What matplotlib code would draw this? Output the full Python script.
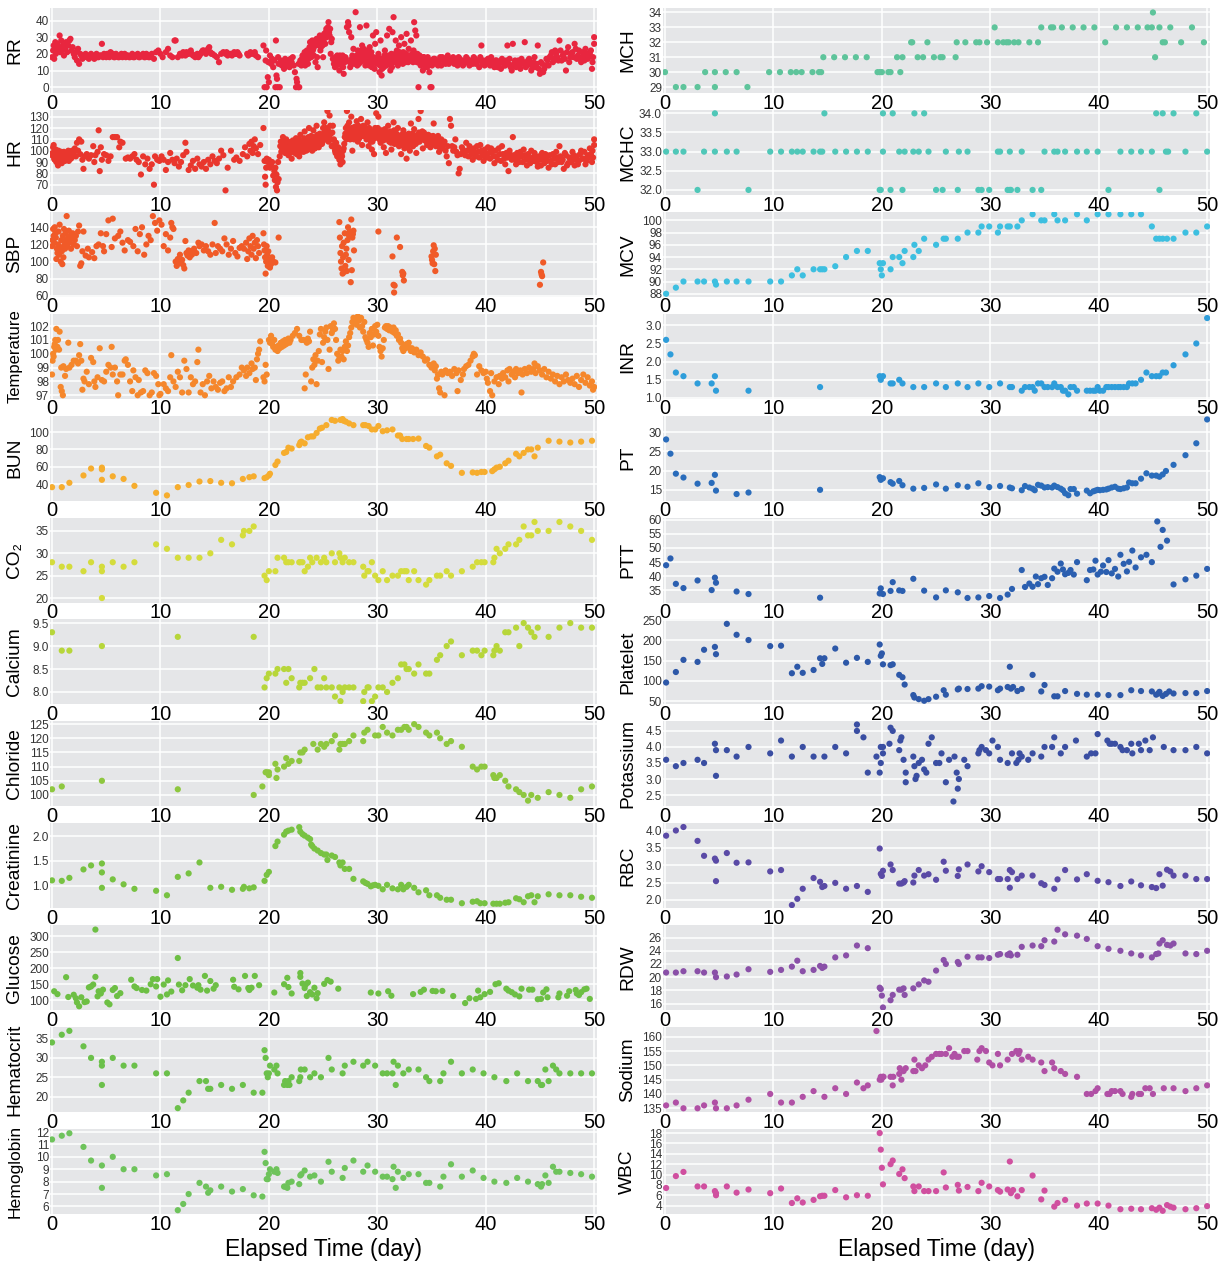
import matplotlib
matplotlib.use('Agg')
import matplotlib.pyplot as plt


### Data: (elapsed day, value)

# Vitals (dense)
rr = [(0.0, 18), (0.1, 22), (0.15, 25), (0.2, 17), (0.3, 27), (0.35, 20), (0.45, 23), (0.5, 26), (0.6, 24),
      (0.7, 31), (0.75, 21), (0.85, 28), (0.9, 22), (1.0, 25), (1.1, 19), (1.2, 23), (1.3, 27), (1.4, 21),
      (1.5, 25), (1.6, 28), (1.7, 29), (1.8, 22), (1.9, 24), (2.0, 20), (2.1, 18), (2.2, 21), (2.3, 16),
      (2.4, 23), (2.5, 14), (2.6, 20), (2.8, 17), (3.0, 19), (3.2, 18), (3.4, 17), (3.6, 20), (3.8, 18),
      (4.0, 19), (4.2, 18), (4.4, 19), (4.6, 26), (4.8, 20), (5.0, 18), (5.2, 19), (5.4, 21), (5.6, 20),
      (5.8, 18), (6.0, 19), (6.2, 18), (6.4, 20), (6.6, 19), (6.8, 18), (7.0, 19), (7.2, 18), (7.4, 20),
      (7.6, 18), (7.8, 19), (8.0, 18), (8.2, 19), (8.4, 20), (8.6, 18), (8.8, 19), (9.0, 18), (9.2, 20),
      (9.4, 17), (9.6, 21), (9.8, 22), (10.0, 20), (10.2, 18), (10.5, 21), (10.7, 23), (10.9, 19),
      (11.1, 18), (11.3, 28), (11.4, 28), (11.6, 18), (11.8, 20), (12.0, 19), (12.2, 20), (12.4, 21),
      (12.6, 20), (12.8, 22), (13.0, 19), (13.2, 18), (13.4, 20), (13.6, 19), (13.8, 21), (14.0, 22),
      (14.2, 20), (14.4, 23), (14.6, 21), (14.8, 20), (15.0, 19), (15.2, 18), (15.4, 15), (15.6, 20),
      (15.8, 21), (16.0, 20), (16.2, 19), (16.5, 20), (16.8, 21), (17.0, 20), (17.3, 19), (18.0, 20),
      (18.3, 21), (18.6, 20), (18.8, 19), (19.0, 18), (19.5, 25), (19.6, 0), (19.7, 16), (19.75, 22),
      (19.8, 0), (19.9, 6), (19.95, 15), (20.0, 3), (20.1, 19), (20.2, 14), (20.3, 17), (20.4, 12),
      (20.5, 16), (20.6, 0), (20.65, 28), (20.7, 7), (20.75, 5), (20.8, 0), (20.85, 18), (20.9, 14),
      (21.0, 0), (21.1, 16), (21.2, 13), (21.3, 15), (21.4, 11), (21.5, 17), (21.6, 13), (21.7, 16),
      (21.8, 14), (21.9, 12), (22.0, 17), (22.1, 15), (22.2, 18), (22.3, 13), (22.4, 9), (22.5, 0),
      (22.55, 5), (22.6, 3), (22.7, 0), (22.75, 14), (22.8, 0), (22.9, 16), (23.0, 13), (23.1, 19),
      (23.2, 15), (23.3, 21), (23.4, 17), (23.5, 22), (23.6, 14), (23.7, 20), (23.8, 27), (23.9, 18),
      (24.0, 28), (24.1, 23), (24.2, 26), (24.3, 15), (24.4, 29), (24.5, 12), (24.6, 27), (24.7, 31),
      (24.8, 24), (24.9, 30), (25.0, 18), (25.1, 32), (25.2, 26), (25.3, 35), (25.4, 34), (25.5, 39),
      (25.6, 31), (25.7, 20), (25.8, 29), (25.9, 17), (26.0, 14), (26.1, 12), (26.2, 16), (26.3, 19),
      (26.4, 14), (26.5, 10), (26.6, 17), (26.7, 13), (26.8, 19), (26.9, 8), (27.0, 15), (27.1, 17),
      (27.2, 36), (27.3, 39), (27.35, 37), (27.4, 33), (27.5, 12), (27.6, 30), (27.7, 19), (27.8, 23),
      (27.9, 17), (28.0, 45), (28.1, 19), (28.2, 22), (28.3, 14), (28.4, 36), (28.5, 18), (28.6, 25),
      (28.7, 16), (28.8, 21), (28.9, 13), (29.0, 37), (29.1, 22), (29.2, 15), (29.3, 24), (29.4, 19),
      (29.5, 12), (29.6, 31), (29.7, 17), (29.8, 26), (29.9, 33), (30.0, 14), (30.1, 20), (30.2, 9),
      (30.3, 28), (30.4, 7), (30.5, 16), (30.6, 12), (30.7, 22), (30.8, 19), (30.9, 31), (31.0, 15),
      (31.1, 35), (31.2, 10), (31.3, 20), (31.4, 33), (31.5, 42), (31.6, 17), (31.7, 28), (31.8, 22),
      (31.9, 13), (32.0, 25), (32.1, 18), (32.2, 30), (32.3, 16), (32.4, 21), (32.5, 26), (32.6, 15),
      (32.7, 32), (32.8, 19), (32.9, 23), (33.0, 17), (33.1, 28), (33.2, 20), (33.3, 15), (33.4, 39),
      (33.5, 34), (33.6, 31), (33.7, 20), (33.8, 0), (33.9, 19), (34.0, 13), (34.1, 16), (34.2, 10),
      (34.3, 18), (34.4, 14), (34.5, 17), (34.6, 12), (34.7, 16), (34.8, 9), (34.9, 0), (35.0, 0),
      (35.1, 15), (35.3, 17), (35.5, 14), (35.7, 16), (35.9, 13), (36.0, 18), (36.2, 15), (36.4, 17),
      (36.6, 14), (36.8, 16), (37.0, 18), (37.2, 15), (37.4, 13), (37.6, 17), (37.8, 16), (38.0, 14),
      (38.2, 18), (38.4, 15), (38.6, 16), (38.8, 14), (39.0, 17), (39.2, 15), (39.4, 12), (39.6, 25),
      (39.8, 16), (40.0, 14), (40.2, 17), (40.4, 13), (40.6, 15), (40.8, 12), (41.0, 16), (41.2, 14),
      (41.4, 11), (41.6, 15), (41.8, 13), (42.0, 25), (42.2, 17), (42.4, 10), (42.5, 26), (42.6, 14),
      (42.8, 12), (43.0, 16), (43.2, 11), (43.4, 14), (43.6, 27), (43.8, 13), (44.0, 17), (44.2, 10),
      (44.4, 15), (44.6, 12), (44.8, 25), (45.0, 8), (45.2, 14), (45.4, 11), (45.6, 17), (45.8, 13),
      (46.0, 19), (46.2, 15), (46.4, 22), (46.6, 18), (46.8, 28), (47.0, 16), (47.2, 20), (47.4, 10),
      (47.6, 24), (47.8, 18), (48.0, 21), (48.2, 26), (48.4, 17), (48.6, 22), (48.8, 15), (49.0, 19),
      (49.2, 23), (49.4, 17), (49.6, 20), (49.8, 11), (50.0, 30), (50.0, 26), (49.9, 18),
      # in-between readings
      (2.7, 19), (2.9, 18), (3.1, 20), (3.3, 19), (3.5, 18), (3.7, 19), (3.9, 17), (4.1, 20), (4.3, 18),
      (4.5, 19), (4.7, 18), (4.9, 19), (5.1, 20), (5.3, 18), (5.5, 19), (5.7, 18), (5.9, 20), (6.1, 18),
      (6.3, 19), (6.5, 18), (6.7, 20), (6.9, 19), (7.1, 18), (7.3, 19), (7.5, 18), (7.7, 19), (7.9, 20),
      (8.1, 18), (8.3, 19), (8.5, 18), (8.7, 20), (8.9, 18), (9.1, 19), (12.1, 21), (12.3, 19), (12.5, 20),
      (12.7, 21), (12.9, 20), (13.1, 19), (13.3, 19), (13.5, 18), (13.7, 20), (13.9, 22), (14.1, 21),
      (14.3, 22), (14.5, 24), (14.7, 20), (16.1, 21), (16.3, 20), (16.6, 19), (16.9, 20), (17.1, 21),
      (17.2, 20), (18.1, 19), (18.4, 20), (18.7, 21),
      (23.05, 17), (23.15, 15), (23.25, 18), (23.35, 13), (23.45, 16), (23.55, 20), (23.65, 17), (23.75, 24),
      (23.85, 21), (23.95, 25), (24.05, 22), (24.15, 19), (24.25, 28), (24.35, 25), (24.45, 18), (24.55, 26),
      (24.65, 29), (24.75, 22), (24.85, 27), (24.95, 25), (25.05, 28), (25.15, 30), (25.25, 33), (25.35, 30),
      (25.45, 36), (25.55, 33), (25.65, 35), (25.75, 27),
      (26.05, 16), (26.15, 18), (26.25, 13), (26.35, 17), (26.45, 15), (26.55, 19), (26.65, 14), (26.75, 16),
      (26.85, 12), (27.05, 18), (27.45, 15), (27.65, 17), (27.85, 14), (28.05, 16), (28.15, 13), (28.25, 18),
      (28.35, 20), (28.45, 15), (28.55, 22), (28.65, 19), (28.75, 23), (28.85, 17), (28.95, 20), (29.05, 15),
      (29.15, 19), (29.25, 13), (29.35, 17), (29.45, 21), (29.55, 14), (29.65, 18), (29.75, 11), (29.85, 16),
      (30.05, 18), (30.15, 15), (30.25, 13), (30.35, 17), (30.45, 11), (30.55, 14), (30.65, 19), (30.75, 16),
      (30.85, 13), (30.95, 17), (31.05, 19), (31.15, 14), (31.25, 17), (31.35, 12), (31.45, 18), (31.55, 15),
      (31.65, 20), (31.75, 16), (31.85, 19), (31.95, 15), (32.05, 21), (32.15, 17), (32.25, 19), (32.35, 14),
      (32.45, 18), (32.55, 16), (32.65, 20), (32.75, 17), (32.85, 15), (32.95, 18), (33.05, 16), (33.15, 19),
      (33.25, 17), (33.35, 22), (33.45, 16), (33.55, 18), (33.65, 15), (33.75, 17), (33.85, 16), (33.95, 14),
      (34.05, 17), (34.15, 15), (34.25, 18), (34.35, 16), (34.45, 12), (34.55, 15), (34.65, 18), (34.75, 14),
      (34.85, 16), (35.05, 13),
      (35.2, 17), (35.4, 15), (35.6, 13), (35.8, 18), (36.1, 16), (36.3, 14), (36.5, 19), (36.7, 15),
      (36.9, 17), (37.1, 14), (37.3, 16), (37.5, 18), (37.7, 15), (37.9, 13), (38.1, 16), (38.3, 17),
      (38.5, 13), (38.7, 15), (38.9, 18), (39.1, 14), (39.3, 16), (39.5, 18), (39.7, 14), (39.9, 13),
      (40.1, 16), (40.3, 15), (40.5, 18), (40.7, 14), (40.9, 16), (41.1, 12), (41.3, 15), (41.5, 17),
      (41.7, 13), (41.9, 16), (42.1, 14), (42.3, 12), (42.7, 16), (42.9, 14), (43.1, 13), (43.3, 17),
      (43.5, 15), (43.7, 12), (43.9, 16), (44.1, 14), (44.3, 12), (44.5, 18), (44.7, 14), (44.9, 11),
      (45.1, 15), (45.3, 9), (45.5, 13), (45.7, 16), (45.9, 18), (46.1, 21), (46.3, 17), (46.5, 20),
      (46.7, 16), (46.9, 22), (47.1, 19), (47.3, 17), (47.5, 21), (47.7, 15), (47.9, 20), (48.1, 18),
      (48.3, 23), (48.5, 19), (48.7, 17), (48.9, 21), (49.1, 16), (49.3, 20), (49.5, 18), (49.7, 22),
      (49.85, 15)]

hr = [(0.0, 96), (0.1, 103), (0.15, 105), (0.2, 93), (0.3, 98), (0.4, 90), (0.5, 95), (0.55, 87), (0.6, 100),
      (0.7, 92), (0.8, 97), (0.9, 89), (1.0, 95), (1.1, 99), (1.2, 91), (1.3, 96), (1.4, 93), (1.5, 100),
      (1.6, 94), (1.7, 98), (1.8, 96), (1.9, 99), (2.0, 97), (2.1, 102), (2.2, 95), (2.3, 107), (2.4, 100),
      (2.5, 110), (2.6, 97), (2.7, 108), (2.8, 92), (2.9, 84), (3.0, 95), (3.2, 97), (3.4, 93), (3.6, 96),
      (3.8, 104), (3.9, 90), (4.0, 96), (4.2, 99), (4.3, 118), (4.4, 82), (4.5, 103), (4.6, 92), (4.8, 97),
      (5.0, 96), (5.2, 91), (5.4, 95), (5.6, 112), (5.8, 112), (6.0, 112), (6.2, 103), (6.3, 108),
      (6.5, 107), (6.8, 93), (7.0, 94), (7.2, 93), (7.4, 95), (7.6, 97), (7.8, 92), (8.0, 90), (8.2, 79),
      (8.4, 95), (8.6, 88), (8.8, 93), (9.0, 84), (9.2, 88), (9.4, 70), (9.5, 95), (9.7, 92), (9.9, 91),
      (10.1, 95), (10.3, 92), (10.5, 83), (10.7, 90), (10.9, 98), (11.1, 92), (11.3, 89), (11.5, 93),
      (11.7, 86), (11.9, 90), (12.1, 96), (12.3, 107), (12.4, 99), (12.6, 83), (12.8, 87), (13.0, 91),
      (13.2, 84), (13.4, 93), (13.6, 88), (13.8, 86), (14.0, 90), (14.2, 84), (14.4, 92), (14.6, 88),
      (14.8, 95), (15.0, 91), (15.2, 89), (15.4, 93), (15.6, 100), (15.8, 96), (16.0, 65), (16.2, 85),
      (16.5, 100), (16.8, 92), (17.0, 94), (17.3, 91), (17.6, 97), (17.8, 103), (18.0, 95), (18.2, 106),
      (18.3, 100), (18.4, 108), (18.5, 98), (18.6, 104), (18.7, 110), (18.8, 102), (19.0, 97), (19.2, 105),
      (19.5, 120), (19.6, 91), (19.65, 77), (19.7, 70), (19.75, 85), (19.8, 93), (19.9, 90), (20.0, 92),
      (20.1, 85), (20.2, 88), (20.3, 90), (20.4, 78), (20.5, 82), (20.55, 74), (20.6, 85), (20.65, 68),
      (20.7, 79), (20.75, 65), (20.8, 72), (20.85, 90), (20.9, 75), (21.0, 95), (21.1, 108), (21.2, 100),
      (21.3, 112), (21.4, 105), (21.5, 98), (21.6, 110), (21.7, 103), (21.8, 96), (21.9, 107), (22.0, 101),
      (22.1, 93), (22.2, 109), (22.3, 104), (22.4, 98), (22.5, 111), (22.6, 100), (22.7, 106), (22.8, 95),
      (22.9, 114), (23.0, 102), (23.1, 108), (23.2, 99), (23.3, 117), (23.4, 104), (23.5, 110), (23.6, 101),
      (23.7, 120), (23.8, 107), (23.9, 113), (24.0, 100), (24.1, 118), (24.2, 105), (24.3, 111), (24.4, 122),
      (24.5, 108), (24.6, 103), (24.7, 115), (24.8, 110), (24.9, 106), (25.0, 120), (25.1, 125), (25.2, 112),
      (25.3, 117), (25.4, 135), (25.5, 108), (25.6, 131), (25.7, 115), (25.8, 104), (25.9, 122), (26.0, 110),
      (26.1, 100), (26.2, 107), (26.3, 95), (26.4, 103), (26.5, 92), (26.6, 88), (26.7, 97), (26.8, 90),
      (26.9, 102), (27.0, 112), (27.1, 120), (27.2, 135), (27.3, 118), (27.4, 125), (27.5, 110), (27.6, 130),
      (27.7, 100), (27.8, 117), (27.9, 121), (28.0, 112), (28.1, 126), (28.2, 108), (28.3, 119), (28.4, 115),
      (28.5, 128), (28.6, 105), (28.7, 122), (28.8, 113), (28.9, 118), (29.0, 110), (29.1, 125), (29.2, 104),
      (29.3, 116), (29.4, 108), (29.5, 101), (29.6, 112), (29.7, 97), (29.8, 120), (29.9, 133), (30.0, 115),
      (30.1, 130), (30.2, 110), (30.3, 107), (30.4, 118), (30.5, 112), (30.6, 103), (30.7, 119), (30.8, 98),
      (30.9, 114), (31.0, 122), (31.1, 108), (31.2, 117), (31.3, 101), (31.4, 112), (31.5, 125), (31.6, 106),
      (31.7, 116), (31.8, 110), (31.9, 120), (32.0, 104), (32.1, 113), (32.2, 97), (32.3, 109), (32.4, 118),
      (32.5, 102), (32.6, 112), (32.7, 93), (32.8, 107), (32.9, 115), (33.0, 100), (33.1, 124), (33.2, 110),
      (33.3, 104), (33.4, 119), (33.5, 112), (33.6, 98), (33.7, 114), (33.8, 128), (33.9, 108), (34.0, 135),
      (34.1, 113), (34.2, 102), (34.3, 116), (34.4, 109), (34.5, 112), (34.6, 105), (34.7, 114), (34.8, 110),
      (34.9, 103), (35.0, 112), (35.1, 107), (35.2, 124), (35.3, 111), (35.4, 104), (35.5, 109), (35.6, 113),
      (35.7, 99), (35.8, 106), (35.9, 110), (36.0, 102), (36.2, 108), (36.4, 95), (36.6, 89), (36.7, 128),
      (36.8, 122), (36.9, 104), (37.0, 100), (37.2, 110), (37.4, 96), (37.5, 80), (37.6, 84), (37.8, 103),
      (38.0, 99), (38.2, 107), (38.4, 95), (38.6, 101), (38.8, 92), (39.0, 98), (39.2, 104), (39.4, 94),
      (39.6, 100), (39.8, 91), (40.0, 97), (40.2, 103), (40.4, 93), (40.6, 99), (40.8, 89), (41.0, 95),
      (41.2, 102), (41.4, 91), (41.6, 97), (41.8, 88), (42.0, 94), (42.1, 82), (42.2, 100), (42.4, 92),
      (42.5, 112), (42.6, 96), (42.8, 88), (43.0, 94), (43.2, 99), (43.4, 90), (43.6, 96), (43.8, 87),
      (44.0, 93), (44.2, 100), (44.4, 91), (44.6, 95), (44.8, 86), (45.0, 92), (45.2, 98), (45.4, 89),
      (45.6, 95), (45.8, 85), (46.0, 91), (46.2, 97), (46.4, 88), (46.6, 94), (46.8, 104), (47.0, 90),
      (47.2, 84), (47.4, 96), (47.6, 89), (47.8, 93), (48.0, 99), (48.2, 87), (48.4, 95), (48.6, 91),
      (48.8, 100), (49.0, 93), (49.2, 88), (49.4, 96), (49.6, 102), (49.8, 90), (50.0, 110), (50.0, 105),
      (49.9, 94),
      # in-between readings
      (0.05, 98), (0.25, 92), (0.35, 101), (0.45, 94), (0.65, 97), (0.75, 90), (0.85, 99), (0.95, 93),
      (1.05, 97), (1.15, 94), (1.25, 98), (1.35, 92), (1.45, 96), (1.55, 91), (1.65, 95), (1.75, 93),
      (1.85, 100), (1.95, 95),
      (21.05, 104), (21.15, 99), (21.25, 106), (21.35, 102), (21.45, 109), (21.55, 104), (21.65, 100),
      (21.75, 108), (21.85, 102), (21.95, 98), (22.05, 106), (22.15, 103), (22.25, 99), (22.35, 108),
      (22.45, 103), (22.55, 97), (22.65, 105), (22.75, 110), (22.85, 103), (22.95, 99), (23.05, 107),
      (23.15, 103), (23.25, 111), (23.35, 106), (23.45, 100), (23.55, 105), (23.65, 112), (23.75, 104),
      (23.85, 109), (23.95, 103), (24.05, 112), (24.15, 107), (24.25, 102), (24.35, 108), (24.45, 114),
      (24.55, 104), (24.65, 110), (24.75, 106), (24.85, 113), (24.95, 108), (25.05, 115), (25.15, 110),
      (25.25, 120), (25.35, 114), (25.45, 118), (25.55, 112), (25.65, 122), (25.75, 110), (25.85, 116),
      (25.95, 105), (26.05, 103), (26.15, 98), (26.25, 101), (26.35, 96), (26.45, 99), (26.55, 94),
      (26.65, 92), (26.75, 95), (26.85, 100), (26.95, 106), (27.05, 115), (27.15, 110), (27.25, 122),
      (27.35, 114), (27.45, 119), (27.55, 115), (27.65, 120), (27.75, 113), (27.85, 110), (27.95, 117),
      (28.05, 119), (28.15, 114), (28.25, 122), (28.35, 111), (28.45, 120), (28.55, 116), (28.65, 113),
      (28.75, 118), (28.85, 121), (28.95, 115), (29.05, 118), (29.15, 112), (29.25, 120), (29.35, 113),
      (29.45, 117), (29.55, 108), (29.65, 115), (29.75, 111), (29.85, 118), (29.95, 112), (30.05, 120),
      (30.15, 114), (30.25, 117), (30.35, 112), (30.45, 115), (30.55, 109), (30.65, 113), (30.75, 110),
      (30.85, 116), (30.95, 111), (31.05, 114), (31.15, 111), (31.25, 107), (31.35, 115), (31.45, 109),
      (31.55, 118), (31.65, 112), (31.75, 108), (31.85, 114), (31.95, 107), (32.05, 111), (32.15, 105),
      (32.25, 114), (32.35, 106), (32.45, 110), (32.55, 107), (32.65, 114), (32.75, 103), (32.85, 110),
      (32.95, 105), (33.05, 112), (33.15, 107), (33.25, 115), (33.35, 109), (33.45, 113), (33.55, 106),
      (33.65, 111), (33.75, 108), (33.85, 116), (33.95, 112), (34.05, 110), (34.15, 117), (34.25, 110),
      (34.35, 112), (34.45, 114), (34.55, 108), (34.65, 111), (34.75, 109), (34.85, 113), (34.95, 107),
      (35.05, 110), (35.15, 113), (35.25, 108), (35.35, 106), (35.45, 111), (35.55, 105), (35.65, 108),
      (35.75, 103), (35.85, 109), (35.95, 104), (36.1, 106), (36.3, 100), (36.5, 104),
      (37.1, 103), (37.3, 99), (37.7, 97), (37.9, 101), (38.1, 96), (38.3, 100), (38.5, 104), (38.7, 97),
      (38.9, 102), (39.1, 95), (39.3, 99), (39.5, 105), (39.7, 96), (39.9, 101), (40.1, 94), (40.3, 98),
      (40.5, 102), (40.7, 95), (40.9, 100), (41.1, 92), (41.3, 97), (41.5, 104), (41.7, 93), (41.9, 98),
      (42.3, 96), (42.7, 92), (42.9, 98), (43.1, 90), (43.3, 95), (43.5, 101), (43.7, 92), (43.9, 97),
      (44.1, 89), (44.3, 94), (44.5, 98), (44.7, 90), (44.9, 95), (45.1, 87), (45.3, 93), (45.5, 97),
      (45.7, 91), (45.9, 96), (46.1, 88), (46.3, 93), (46.5, 99), (46.7, 90), (46.9, 95), (47.1, 92),
      (47.3, 98), (47.5, 87), (47.7, 94), (47.9, 90), (48.1, 96), (48.3, 92), (48.5, 88), (48.7, 97),
      (48.9, 93), (49.1, 99), (49.3, 91), (49.5, 94), (49.7, 97), (49.85, 100)]

sbp = [(0.0, 118), (0.05, 125), (0.1, 138), (0.15, 130), (0.2, 122), (0.25, 140), (0.3, 133), (0.35, 128),
       (0.4, 103), (0.45, 115), (0.5, 110), (0.55, 120), (0.6, 135), (0.65, 108), (0.7, 143), (0.75, 117),
       (0.8, 100), (0.85, 125), (0.9, 112), (0.95, 97), (1.0, 130), (1.05, 105), (1.1, 138), (1.15, 120),
       (1.2, 115), (1.25, 133), (1.3, 125), (1.35, 153), (1.4, 118), (1.5, 128), (1.55, 136), (1.6, 122),
       (1.7, 130), (1.75, 115), (1.8, 127), (1.9, 133), (2.0, 120), (2.1, 125), (2.2, 130), (2.3, 118),
       (2.4, 135), (2.5, 142), (2.6, 95), (2.7, 98), (2.8, 112), (2.9, 135), (3.1, 107), (3.3, 115),
       (3.4, 105), (3.7, 111), (3.9, 104), (4.1, 118), (4.3, 120), (4.5, 133), (4.7, 118), (4.8, 112),
       (5.0, 132), (5.2, 148), (5.5, 117), (5.6, 150), (5.8, 127), (6.1, 130), (6.3, 135), (6.5, 122),
       (6.7, 113), (7.0, 125), (7.2, 123), (7.5, 118), (7.7, 138), (7.9, 112), (8.1, 132), (8.3, 140),
       (8.5, 108), (8.7, 120), (8.9, 130), (9.1, 125), (9.3, 153), (9.5, 145), (9.7, 136), (9.9, 148),
       (10.1, 143), (10.3, 118), (10.5, 132), (10.7, 113), (10.9, 128), (11.0, 145), (11.1, 140), (11.2, 138),
       (11.4, 100), (11.5, 95), (11.6, 103), (11.7, 98), (11.8, 108), (12.0, 102), (12.1, 96), (12.2, 92),
       (12.3, 124), (12.4, 110), (12.5, 107), (12.6, 113), (12.7, 105), (12.8, 112), (12.9, 108), (13.1, 115),
       (13.3, 110), (13.5, 122), (13.6, 118), (13.8, 120), (14.0, 113), (14.2, 118), (14.4, 112), (14.6, 108),
       (14.8, 120), (15.0, 145), (15.1, 110), (15.3, 118), (15.5, 115), (15.7, 112), (15.9, 127), (16.1, 120),
       (16.3, 108), (16.5, 115), (16.7, 124), (16.9, 110), (17.1, 106), (17.3, 116), (17.5, 118), (17.7, 115),
       (17.9, 122), (18.0, 103), (18.1, 112), (18.2, 127), (18.3, 118), (18.4, 108), (18.5, 130), (18.6, 115),
       (18.7, 122), (18.8, 104), (18.9, 125), (19.0, 118), (19.1, 110), (19.5, 133), (19.55, 120), (19.6, 113),
       (19.65, 105), (19.7, 86), (19.75, 100), (19.8, 118), (19.85, 108), (19.9, 95), (19.95, 112), (20.0, 102),
       (20.1, 93), (20.2, 97), (20.3, 105), (20.4, 100), (20.6, 99), (20.9, 128), (26.5, 146), (26.55, 128),
       (26.6, 110), (26.65, 100), (26.7, 92), (26.75, 118), (26.8, 86), (26.85, 105), (26.9, 122), (26.95, 88),
       (27.0, 133), (27.05, 95), (27.1, 108), (27.15, 115), (27.2, 89), (27.25, 125), (27.3, 140), (27.35, 102),
       (27.4, 130), (27.45, 135), (27.55, 76), (27.6, 149), (27.65, 90), (27.7, 128), (27.75, 132), (27.8, 136),
       (27.85, 113), (30.1, 135), (31.4, 106), (31.5, 73), (31.55, 64), (31.6, 72), (31.8, 128), (32.1, 117),
       (32.3, 88), (32.35, 84), (32.4, 86), (32.45, 78), (35.0, 106), (35.05, 102), (35.1, 98), (35.15, 112),
       (35.2, 119), (35.25, 97), (35.3, 115), (35.35, 89), (35.4, 108), (45.0, 73), (45.1, 88), (45.15, 85),
       (45.2, 83), (45.3, 99)]

temperature = [(0.0, 98.5), (0.05, 99.5), (0.1, 100.0), (0.15, 99.8), (0.2, 100.5), (0.25, 100.7), (0.3, 101.0),
               (0.35, 100.3), (0.4, 101.8), (0.5, 100.5), (0.55, 101.0), (0.65, 100.3), (0.7, 101.6), (0.8, 97.6),
               (0.85, 99.0), (0.9, 97.3), (1.0, 97.0), (1.05, 99.1), (1.2, 98.4), (1.3, 98.9), (1.5, 100.8),
               (1.6, 99.0), (1.8, 99.2), (2.0, 99.5), (2.2, 99.5), (2.4, 99.3), (2.5, 99.9), (2.6, 100.7),
               (2.7, 99.5), (2.8, 97.4), (2.9, 98.2), (3.0, 98.0), (3.2, 98.7), (3.4, 97.8), (3.6, 99.7),
               (3.8, 99.4), (3.9, 98.0), (4.0, 97.6), (4.2, 98.3), (4.4, 100.4), (4.6, 98.1), (4.8, 98.0),
               (5.0, 98.7), (5.2, 99.2), (5.4, 99.0), (5.5, 100.5), (5.6, 98.5), (5.8, 99.0), (6.0, 98.0),
               (6.1, 97.0), (6.3, 98.5), (6.5, 98.5), (6.7, 99.5), (6.8, 99.6), (7.0, 99.2), (7.2, 98.0),
               (7.4, 97.3), (7.5, 98.8), (7.7, 98.3), (7.9, 97.0), (8.0, 98.1), (8.2, 97.2), (8.4, 97.3),
               (8.6, 98.8), (8.8, 98.6), (9.0, 97.0), (9.2, 97.2), (9.4, 98.6), (9.6, 98.4), (9.8, 97.8),
               (9.9, 97.0), (10.0, 97.1), (10.3, 97.8), (10.5, 97.5), (10.7, 97.3), (10.9, 98.3), (11.0, 99.9),
               (11.2, 98.0), (11.4, 97.6), (11.6, 98.7), (11.8, 98.3), (12.0, 97.2), (12.2, 99.5), (12.4, 98.9),
               (12.6, 97.2), (12.8, 98.3), (13.0, 97.8), (13.2, 98.0), (13.4, 99.4), (13.5, 100.3), (13.7, 97.2),
               (13.9, 97.8), (14.1, 97.0), (14.3, 98.0), (14.5, 98.4), (14.7, 97.5), (14.9, 98.0), (15.1, 97.6),
               (15.3, 97.4), (15.5, 97.9), (15.7, 98.0), (15.9, 97.3), (16.1, 97.5), (16.3, 98.3), (16.5, 97.6),
               (16.7, 98.0), (17.0, 98.3), (17.3, 98.5), (17.5, 99.0), (17.7, 98.8), (17.9, 98.4), (18.0, 99.0),
               (18.2, 98.6), (18.4, 99.3), (18.5, 98.9), (18.7, 99.0), (18.8, 98.1), (18.9, 99.6), (19.0, 100.0),
               (19.1, 100.3), (19.2, 100.9), (19.5, 98.3), (19.6, 98.0), (19.7, 99.2), (19.8, 98.5), (20.0, 101.0),
               (20.1, 100.8), (20.2, 101.3), (20.3, 100.7), (20.4, 100.5), (20.5, 101.0), (20.6, 100.3),
               (20.7, 100.5), (20.8, 100.2), (20.9, 100.6), (21.0, 100.4), (21.1, 100.8), (21.2, 100.5),
               (21.3, 100.9), (21.4, 100.6), (21.5, 101.0), (21.6, 100.7), (21.7, 100.9), (21.8, 101.1),
               (21.9, 100.8), (22.0, 101.0), (22.2, 101.3), (22.4, 101.5), (22.6, 101.8), (22.8, 101.3),
               (23.0, 101.0), (23.2, 101.0), (23.3, 97.5), (23.4, 98.5), (23.5, 100.8), (23.6, 101.1),
               (23.7, 100.9), (23.8, 101.6), (23.9, 98.0), (24.0, 99.0), (24.1, 99.6), (24.2, 99.2), (24.3, 99.9),
               (24.4, 97.8), (24.5, 99.5), (24.6, 100.2), (24.7, 101.4), (24.8, 101.8), (24.9, 99.4), (25.0, 100.8),
               (25.1, 101.2), (25.2, 101.6), (25.3, 101.9), (25.4, 101.0), (25.5, 98.9), (25.6, 100.3),
               (25.7, 102.0), (25.8, 101.5), (25.9, 101.7), (26.0, 102.2), (26.1, 101.8), (26.2, 101.0),
               (26.3, 100.0), (26.4, 99.5), (26.5, 99.8), (26.6, 100.3), (26.7, 99.8), (26.8, 100.2), (26.9, 99.6),
               (27.0, 100.5), (27.1, 100.9), (27.2, 100.2), (27.3, 100.6), (27.4, 101.2), (27.5, 101.5),
               (27.6, 101.9), (27.7, 102.3), (27.8, 102.6), (27.9, 102.2), (28.0, 102.5), (28.1, 102.1),
               (28.2, 102.7), (28.3, 102.4), (28.4, 101.9), (28.5, 102.6), (28.6, 102.0), (28.7, 101.6),
               (28.8, 102.3), (28.9, 101.2), (29.0, 101.0), (29.1, 100.8), (29.2, 100.5), (29.3, 101.5),
               (29.4, 101.2), (29.5, 101.8), (29.6, 100.6), (29.7, 101.4), (29.8, 102.0), (29.9, 101.6),
               (30.0, 102.1), (30.1, 101.3), (30.2, 100.5), (30.3, 100.2), (30.4, 99.8), (30.5, 100.4),
               (30.6, 101.0), (30.7, 101.9), (30.8, 102.0), (30.9, 101.8), (31.0, 102.0), (31.1, 101.7),
               (31.2, 101.9), (31.3, 101.8), (31.4, 101.6), (31.5, 101.9), (31.6, 101.5), (31.7, 101.7),
               (31.8, 101.3), (31.9, 101.4), (32.0, 101.0), (32.1, 101.1), (32.2, 100.8), (32.3, 100.4),
               (32.4, 100.2), (32.5, 100.6), (32.6, 100.4), (32.7, 100.7), (32.8, 100.5), (32.9, 100.8),
               (33.0, 100.4), (33.1, 100.2), (33.2, 100.4), (33.4, 100.1), (33.6, 100.3), (33.8, 99.9),
               (34.0, 100.1), (34.2, 99.8), (34.4, 99.5), (34.6, 99.6), (34.8, 99.2), (35.0, 99.0), (35.2, 99.3),
               (35.3, 98.8), (35.4, 99.1), (35.5, 98.2), (35.6, 98.5), (35.7, 97.5), (35.8, 97.2), (35.9, 98.7),
               (36.0, 98.5), (36.2, 97.0), (36.3, 98.8), (36.5, 98.6), (36.7, 98.7), (36.9, 98.4), (37.1, 98.9),
               (37.3, 98.6), (37.4, 97.3), (37.5, 98.8), (37.7, 98.1), (37.9, 98.5), (38.0, 98.9), (38.2, 99.1),
               (38.4, 99.2), (38.6, 99.5), (38.8, 99.8), (38.9, 100.0), (39.0, 99.9), (39.2, 98.5), (39.4, 99.1),
               (39.6, 98.8), (39.8, 98.6), (40.0, 98.7), (40.1, 98.2), (40.2, 97.9), (40.4, 97.3), (40.5, 98.6),
               (40.6, 97.0), (40.8, 98.0), (41.0, 98.3), (41.2, 97.8), (41.3, 98.4), (41.5, 98.2), (41.6, 98.6),
               (41.8, 98.3), (42.0, 98.8), (42.1, 98.0), (42.2, 98.9), (42.4, 98.5), (42.6, 98.7), (42.7, 98.3),
               (42.8, 98.9), (43.0, 98.6), (43.2, 98.8), (43.3, 97.2), (43.4, 98.5), (43.6, 98.9), (43.8, 98.6),
               (44.0, 99.0), (44.2, 98.7), (44.4, 98.9), (44.5, 99.3), (44.6, 98.6), (44.8, 99.1), (45.0, 98.8),
               (45.2, 98.5), (45.4, 98.9), (45.6, 98.3), (45.8, 98.7), (46.0, 98.2), (46.2, 98.5), (46.4, 98.0),
               (46.6, 98.4), (46.8, 97.8), (47.0, 98.3), (47.2, 98.0), (47.4, 98.5), (47.6, 98.1), (47.8, 97.9),
               (48.0, 98.2), (48.2, 97.8), (48.4, 98.4), (48.6, 97.6), (48.8, 98.1), (49.0, 98.5), (49.2, 97.9),
               (49.4, 98.3), (49.6, 97.7), (49.8, 98.0), (50.0, 97.6), (49.9, 97.4)]

# Labs, left column
bun = [(0, 36.5), (0.9, 36.5), (1.6, 41.5), (2.9, 50), (3.6, 58), (4.6, 59), (4.6, 57), (4.6, 45), (5.6, 49),
       (6.6, 46), (7.6, 38), (9.6, 30), (10.6, 27), (11.6, 36.5), (12.6, 39), (13.6, 43), (14.6, 43.5),
       (15.6, 41.5), (16.6, 41), (17.6, 46), (18.2, 48), (18.6, 49), (19.6, 47), (19.8, 48), (20.0, 50),
       (20.1, 52), (20.6, 62), (20.8, 66), (21.4, 76), (21.6, 77), (21.8, 82), (22.1, 81), (22.8, 85),
       (22.9, 88), (23.0, 89), (23.3, 87), (23.6, 94), (23.9, 95), (24.1, 95), (24.4, 99), (24.7, 104),
       (24.9, 105), (25.3, 108), (25.8, 114), (26.1, 113), (26.6, 114), (26.8, 115), (26.9, 113), (27.1, 112),
       (27.4, 110), (27.8, 108), (28.7, 108), (28.9, 108), (29.2, 107), (29.5, 103), (29.8, 103), (30.1, 107),
       (30.5, 101), (30.9, 102), (31.4, 103), (31.9, 96), (32.1, 96), (32.3, 92), (32.7, 92), (32.9, 92),
       (33.3, 92), (33.8, 92.5), (34.5, 84), (34.8, 82), (35.5, 72), (35.8, 74), (36.4, 64), (36.8, 61),
       (37.8, 53), (38.8, 53.5), (39.2, 53), (39.6, 54), (39.9, 54), (40.6, 55), (40.8, 57), (41.0, 59),
       (41.3, 60), (41.8, 64), (42.1, 67), (42.8, 75), (43.1, 72), (43.5, 76), (43.9, 80), (44.2, 80),
       (44.5, 72), (44.8, 82), (45.8, 90), (46.8, 89), (47.8, 88), (48.8, 89), (49.8, 90)]

co2 = [(0, 28), (0.9, 27), (1.6, 27), (2.9, 26), (3.6, 28), (4.6, 27), (4.6, 26), (4.6, 20), (5.6, 28), (6.6, 27),
       (7.6, 28), (9.6, 32), (10.6, 31), (11.6, 29), (12.6, 29), (13.6, 29), (14.6, 30), (15.6, 33), (16.6, 32),
       (17.6, 34), (17.7, 35), (18.2, 35), (18.6, 36), (19.6, 25), (19.8, 24), (20.0, 26), (20.6, 26), (20.8, 29),
       (21.4, 29), (21.6, 28), (21.8, 28), (22.1, 28), (22.8, 28), (22.9, 28), (23.1, 28), (23.3, 26), (23.6, 27),
       (23.8, 29), (24.0, 28), (24.4, 29), (24.8, 28), (25.1, 29), (25.3, 28), (25.8, 30), (26.1, 28), (26.5, 30),
       (26.6, 29), (26.8, 28), (27.0, 29), (27.4, 28), (27.8, 28), (28.7, 27), (28.8, 25), (29.1, 26), (29.2, 26),
       (29.5, 28), (29.8, 25), (30.1, 24), (30.5, 26), (30.9, 24), (31.4, 25), (31.9, 25), (32.2, 26), (32.5, 26),
       (32.7, 26), (32.9, 24), (33.4, 26), (33.8, 24), (34.5, 23), (34.8, 24), (35.5, 25), (35.8, 25), (36.4, 26),
       (36.8, 25), (37.8, 26), (38.8, 27), (39.2, 28), (39.6, 28), (39.9, 28), (40.7, 28), (40.8, 29), (41.0, 31),
       (41.3, 30), (41.8, 31), (42.1, 32), (42.8, 32), (43.1, 33), (43.5, 36), (43.9, 34), (44.2, 34), (44.5, 37),
       (44.8, 35), (45.8, 35), (46.8, 37), (47.8, 36), (48.8, 35), (49.8, 33)]

calcium = [(0, 9.3), (0.9, 8.9), (1.6, 8.9), (4.6, 9.0), (11.6, 9.2), (18.6, 9.2), (19.6, 8.1), (19.8, 8.3),
           (20.0, 8.4), (20.6, 8.4), (20.8, 8.5), (21.4, 8.5), (21.6, 8.2), (21.8, 8.5), (22.1, 8.3), (22.8, 8.1),
           (22.9, 8.2), (23.1, 8.2), (23.3, 8.2), (23.8, 8.3), (24.2, 8.5), (24.5, 8.1), (24.8, 8.1), (25.1, 8.3),
           (25.3, 8.1), (25.8, 8.1), (26.1, 7.9), (26.5, 8.1), (26.6, 7.8), (26.8, 8.0), (27.0, 8.1), (27.4, 8.1),
           (27.8, 8.1), (28.7, 7.8), (28.8, 8.0), (29.1, 8.1), (29.2, 8.1), (29.5, 7.8), (29.8, 7.9), (30.1, 8.1),
           (30.5, 8.1), (30.9, 8.0), (31.4, 8.2), (31.9, 8.3), (32.2, 8.6), (32.5, 8.6), (32.7, 8.5), (32.9, 8.5),
           (33.4, 8.4), (33.8, 8.6), (34.5, 8.4), (34.8, 8.4), (35.5, 8.7), (35.8, 8.8), (36.4, 9.0), (36.8, 9.1),
           (37.8, 8.8), (38.8, 8.9), (39.2, 8.9), (39.6, 8.8), (39.9, 8.9), (40.7, 8.8), (40.8, 8.9), (41.0, 9.0),
           (41.3, 8.9), (41.8, 9.3), (42.1, 9.3), (42.8, 9.4), (43.1, 9.0), (43.5, 9.5), (43.9, 9.4), (44.2, 9.3),
           (44.5, 9.2), (44.8, 9.4), (45.8, 9.2), (46.8, 9.4), (47.8, 9.5), (48.8, 9.4), (49.8, 9.4)]

chloride = [(0, 102), (0.9, 103), (4.6, 105), (11.6, 102), (18.6, 100), (19.4, 103), (19.7, 108), (19.8, 108),
            (20.0, 107), (20.0, 108), (20.6, 111), (20.7, 106), (20.8, 109), (21.4, 110), (21.6, 113), (21.8, 111),
            (22.1, 112), (22.8, 112), (22.9, 115), (23.1, 115), (23.3, 116), (24.1, 118), (24.5, 116), (24.8, 118),
            (25.1, 117), (25.3, 118), (25.8, 119), (26.1, 121), (26.5, 116), (26.6, 118), (26.8, 118), (27.0, 118),
            (27.4, 119), (27.8, 121), (28.7, 119), (28.8, 122), (29.1, 123), (29.8, 121), (30.1, 121), (30.5, 124),
            (30.9, 122), (31.4, 121), (31.9, 123), (32.2, 123), (32.5, 124), (32.7, 124), (32.9, 123), (33.4, 125),
            (33.8, 124), (34.5, 122), (34.8, 121), (35.5, 122), (35.8, 120), (36.4, 118), (36.8, 119), (37.8, 117),
            (38.8, 110), (39.2, 109), (39.6, 110), (39.9, 110), (40.7, 107), (40.8, 106), (41.0, 106), (41.3, 107),
            (41.8, 105), (42.1, 103), (42.8, 102), (43.1, 101), (43.5, 100), (43.9, 98), (44.2, 100), (44.8, 99),
            (45.8, 101), (46.8, 100), (47.8, 99), (48.8, 102), (49.8, 103)]

creatinine = [(0, 1.11), (0.9, 1.10), (1.6, 1.16), (2.9, 1.33), (3.6, 1.41), (4.6, 1.45), (4.6, 1.27), (4.6, 0.96),
              (5.6, 1.13), (6.6, 1.03), (7.6, 0.94), (9.6, 0.90), (10.6, 0.81), (11.6, 1.18), (12.6, 1.25),
              (13.6, 1.47), (14.6, 0.96), (15.6, 0.98), (16.6, 0.92), (17.6, 0.94), (17.7, 0.98), (18.2, 0.95),
              (18.6, 0.97), (19.6, 1.10), (19.8, 1.22), (20.0, 1.28), (20.6, 1.80), (20.8, 1.89), (21.4, 2.03),
              (21.6, 2.09), (21.8, 2.11), (22.1, 2.13), (22.8, 2.18), (22.9, 2.09), (23.1, 2.04), (23.3, 2.01),
              (23.6, 1.97), (23.8, 1.94), (23.9, 1.83), (24.0, 1.80), (24.2, 1.75), (24.5, 1.71), (24.8, 1.66),
              (25.1, 1.63), (25.3, 1.63), (25.4, 1.52), (25.8, 1.61), (26.1, 1.58), (26.5, 1.47), (26.6, 1.41),
              (26.8, 1.47), (27.0, 1.34), (27.4, 1.34), (27.8, 1.14), (28.7, 1.09), (28.9, 1.06), (29.1, 1.04),
              (29.4, 0.99), (29.6, 1.01), (29.8, 1.02), (30.1, 1.00), (30.5, 0.93), (30.9, 1.02), (31.4, 0.95),
              (31.9, 0.93), (32.2, 1.02), (32.4, 0.93), (32.7, 0.98), (32.9, 1.02), (33.4, 0.96), (33.8, 0.87),
              (34.5, 0.91), (34.8, 0.81), (35.5, 0.81), (35.8, 0.76), (36.4, 0.72), (36.8, 0.72), (37.8, 0.65),
              (38.8, 0.68), (39.2, 0.69), (39.5, 0.65), (39.9, 0.65), (40.7, 0.64), (41.0, 0.64), (41.3, 0.64),
              (41.8, 0.66), (42.1, 0.67), (42.8, 0.75), (43.1, 0.73), (43.5, 0.67), (43.9, 0.79), (44.2, 0.81),
              (44.5, 0.67), (44.8, 0.79), (45.8, 0.83), (46.8, 0.81), (47.8, 0.81), (48.8, 0.78), (49.8, 0.76)]

glucose = [(0.2, 128), (0.5, 119), (1.3, 172), (1.5, 110), (2.0, 117), (2.2, 106), (2.3, 93), (2.5, 81), (2.7, 109),
           (3.0, 94), (3.2, 96), (3.4, 140), (3.6, 143), (3.8, 149), (4.0, 321), (4.0, 173), (4.2, 112), (4.3, 128),
           (4.5, 121), (4.7, 133), (5.1, 93), (5.3, 87), (5.6, 132), (5.8, 138), (6.0, 113), (6.3, 122), (7.3, 164),
           (7.6, 143), (7.8, 138), (8.3, 132), (8.7, 130), (9.1, 150), (9.3, 166), (9.6, 143), (9.7, 166),
           (10.0, 111), (10.3, 149), (10.6, 118), (10.7, 162), (11.0, 127), (11.6, 232), (11.7, 149), (12.0, 131),
           (12.3, 147), (12.7, 166), (13.0, 146), (13.4, 139), (13.5, 147), (13.7, 133), (14.1, 176), (14.3, 130),
           (14.6, 160), (14.9, 136), (15.1, 147), (16.7, 164), (16.8, 142), (17.2, 134), (17.8, 176), (18.1, 138),
           (18.2, 132), (18.4, 139), (18.7, 176), (19.1, 147), (20.5, 124), (21.4, 150), (21.7, 170), (21.8, 141),
           (22.1, 121), (22.9, 185), (22.9, 173), (23.1, 152), (23.3, 138), (23.4, 149), (23.5, 113), (23.6, 155),
           (23.8, 125), (24.0, 118), (24.2, 139), (24.4, 106), (24.5, 122), (25.1, 151), (25.4, 163), (25.7, 158),
           (26.4, 136), (29.4, 124), (30.1, 121), (31.0, 128), (31.3, 114), (33.3, 119), (34.0, 126), (34.3, 133),
           (35.1, 129), (35.4, 128), (36.0, 129), (37.0, 113), (38.1, 91), (38.5, 106), (39.1, 104), (39.3, 130),
           (39.5, 109), (39.9, 119), (40.4, 126), (40.9, 150), (41.2, 153), (41.9, 136), (42.1, 130), (42.4, 125),
           (42.7, 118), (43.1, 112), (43.3, 136), (44.0, 133), (44.3, 133), (44.8, 103), (45.1, 104), (45.3, 124),
           (45.6, 134), (45.7, 109), (46.7, 109), (46.8, 121), (47.5, 114), (47.7, 128), (48.3, 132), (48.4, 121),
           (48.6, 116), (48.8, 125), (49.1, 134), (49.3, 136), (49.6, 104)]

hematocrit = [(0, 34), (0.9, 36), (1.6, 37), (2.9, 33), (3.6, 30), (4.6, 29), (4.6, 28), (4.6, 23), (5.6, 30),
              (6.6, 28), (7.6, 28), (9.6, 26), (10.6, 26), (11.6, 17), (12.1, 19), (12.6, 21), (13.6, 24), (14.2, 24),
              (14.4, 22), (14.6, 22), (15.6, 23), (16.6, 22), (17.6, 23), (18.6, 21), (19.4, 21), (19.6, 32),
              (19.7, 30), (19.8, 26), (19.9, 25), (20.0, 26), (20.1, 28), (20.5, 27), (20.7, 28), (20.8, 26),
              (21.4, 23), (21.5, 24), (21.7, 23), (21.8, 24), (21.9, 23), (22.1, 25), (22.8, 24), (22.9, 25),
              (22.95, 27), (23.3, 27), (23.8, 25), (24.2, 26), (24.8, 25), (25.5, 30), (25.8, 27), (26.8, 26),
              (27.0, 28), (27.8, 29), (28.7, 28), (29.1, 29), (29.8, 28), (30.5, 26), (30.9, 26), (31.4, 26),
              (31.5, 29), (31.7, 23), (31.9, 28), (32.4, 26), (32.9, 27), (33.8, 27), (34.5, 25), (34.8, 24),
              (35.8, 24), (36.1, 26), (36.8, 29), (37.8, 26), (38.8, 27), (39.8, 26), (40.8, 25), (41.9, 24),
              (42.9, 26), (43.9, 24), (44.8, 24), (45.1, 23), (45.2, 23), (45.5, 27), (45.8, 24), (46.2, 28),
              (46.5, 27), (46.8, 26), (47.8, 26), (48.8, 26), (49.8, 26)]

hemoglobin = [(0, 11.4), (0.9, 11.7), (1.6, 11.9), (2.9, 10.8), (3.6, 9.7), (4.6, 9.3), (4.6, 7.5), (5.6, 10.0),
              (6.6, 9.0), (7.6, 9.0), (9.6, 8.5), (10.6, 8.6), (11.6, 5.7), (12.1, 6.2), (12.6, 7.0), (13.6, 7.9),
              (14.2, 7.6), (14.4, 7.1), (14.6, 7.3), (15.6, 7.6), (16.6, 7.2), (17.6, 7.4), (18.6, 6.9), (19.4, 6.8),
              (19.6, 10.4), (19.7, 9.5), (19.8, 8.2), (19.9, 8.2), (20.0, 8.6), (20.1, 9.0), (20.5, 8.8), (20.7, 9.0),
              (20.8, 8.7), (21.4, 7.6), (21.5, 7.6), (21.7, 7.5), (21.8, 7.9), (22.1, 8.0), (22.8, 7.8), (22.9, 8.5),
              (23.0, 8.6), (23.3, 8.9), (23.8, 8.4), (24.2, 8.5), (24.8, 8.0), (25.5, 9.6), (25.8, 8.8), (26.8, 8.3),
              (27.0, 9.1), (27.8, 9.7), (28.7, 8.8), (29.1, 9.3), (29.8, 8.8), (30.5, 8.4), (30.9, 8.4), (31.4, 8.2),
              (31.5, 9.2), (31.7, 7.5), (31.9, 8.8), (32.4, 8.3), (32.9, 8.6), (33.8, 8.6), (34.5, 7.9), (34.8, 7.9),
              (35.8, 7.6), (36.1, 8.4), (36.8, 9.4), (37.8, 8.4), (38.8, 8.9), (39.8, 8.3), (40.8, 8.0), (41.9, 7.9),
              (42.9, 8.3), (43.9, 8.0), (44.8, 7.8), (45.1, 7.6), (45.2, 7.8), (45.5, 8.5), (45.8, 7.9), (46.2, 9.2),
              (46.5, 8.8), (46.8, 8.8), (47.8, 8.7), (48.8, 8.6), (49.8, 8.4)]

# Labs, right column
mch = [(0, 30), (1.0, 29), (1.7, 29), (3.0, 29), (3.7, 30), (4.6, 30), (4.6, 29), (5.6, 30), (6.6, 30), (7.6, 29),
       (9.6, 30), (10.6, 30), (11.6, 30), (12.1, 30), (12.6, 30), (13.6, 30), (14.2, 30), (14.4, 30), (14.6, 31),
       (15.6, 31), (16.6, 31), (17.6, 31), (18.6, 31), (19.6, 30), (19.8, 30), (20.0, 30), (20.6, 30), (20.8, 30),
       (21.4, 31), (21.7, 30), (21.9, 31), (22.7, 32), (22.8, 32), (23.3, 31), (23.8, 31), (24.2, 32), (24.8, 31),
       (25.4, 31), (25.6, 31), (26.8, 31), (26.9, 32), (27.7, 32), (28.7, 32), (29.0, 32), (29.7, 32), (30.4, 33),
       (30.7, 32), (31.2, 32), (31.5, 32), (31.7, 32), (32.2, 32), (32.6, 32), (33.6, 32), (34.4, 32), (34.7, 33),
       (35.6, 33), (35.8, 33), (36.6, 33), (37.6, 33), (38.6, 33), (39.6, 33), (40.6, 32), (41.6, 33), (42.6, 33),
       (43.6, 33), (44.5, 33), (44.9, 33), (45.0, 34), (45.2, 31), (45.6, 33), (45.9, 32), (46.1, 32), (46.6, 33),
       (47.6, 32), (48.6, 33), (49.7, 32)]

mchc = [(4.6, 34), (14.7, 34), (20.1, 34), (21.0, 34), (23.0, 34), (23.9, 34), (45.3, 34), (45.9, 34), (46.9, 34),
        (49.0, 34),
        (3.0, 32), (7.7, 32), (19.8, 32), (19.9, 32), (20.8, 32), (21.9, 32), (25.0, 32), (25.6, 32), (27.0, 32),
        (28.9, 32), (29.2, 32), (29.9, 32), (31.6, 32), (31.8, 32), (31.9, 32), (32.5, 32), (33.9, 32), (34.7, 32),
        (40.9, 32), (45.6, 32),
        (0.1, 33), (1.0, 33), (1.7, 33), (3.6, 33), (4.6, 33), (5.7, 33), (6.6, 33), (9.7, 33), (10.7, 33),
        (11.7, 33), (12.2, 33), (12.7, 33), (13.7, 33), (14.3, 33), (14.5, 33), (15.7, 33), (16.7, 33), (17.7, 33),
        (18.7, 33), (20.1, 33), (21.6, 33), (22.1, 33), (22.9, 33), (23.4, 33), (24.3, 33), (25.9, 33), (27.1, 33),
        (27.9, 33), (30.7, 33), (30.9, 33), (31.8, 33), (32.9, 33), (35.0, 33), (35.9, 33), (36.2, 33), (36.9, 33),
        (38.0, 33), (38.9, 33), (39.9, 33), (42.0, 33), (43.0, 33), (43.9, 33), (44.9, 33), (46.2, 33), (46.4, 33),
        (48.0, 33), (50.0, 33)]

mcv = [(0.1, 88), (1.0, 89), (1.7, 90), (3.0, 90), (3.6, 90), (4.6, 90), (4.7, 89.5), (5.7, 90), (6.6, 90), (7.7, 90),
       (9.7, 90), (10.7, 90), (11.7, 91), (12.2, 92), (12.7, 91), (13.7, 92), (14.3, 92), (14.5, 92), (14.7, 92),
       (15.7, 92.5), (16.7, 94), (17.7, 95), (18.7, 95), (19.8, 93), (19.9, 92), (20.0, 91), (20.1, 93), (20.8, 92),
       (21.0, 94), (21.6, 94), (21.9, 93), (22.1, 95), (22.9, 94), (23.0, 96), (23.4, 95), (23.9, 97), (25.0, 96),
       (25.7, 97), (25.9, 97), (27.0, 97), (27.9, 98), (28.9, 98), (29.2, 99), (29.9, 99), (30.7, 98), (30.9, 99),
       (31.6, 99), (31.8, 99), (32.5, 99), (32.9, 100), (33.9, 101), (34.7, 100), (35.0, 100), (35.9, 101),
       (36.2, 100), (36.9, 100), (38.0, 101), (38.9, 100), (39.9, 101), (40.9, 101), (42.0, 101), (43.0, 101),
       (43.9, 101), (44.9, 99), (45.3, 97), (45.6, 97), (45.9, 97), (46.3, 97), (46.9, 97), (48.0, 98), (49.0, 98),
       (50.0, 99)]

inr = [(0.1, 2.6), (0.5, 2.2), (1.0, 1.7), (1.7, 1.6), (3.0, 1.4), (4.3, 1.4), (4.6, 1.6), (4.7, 1.2), (7.7, 1.2),
       (14.3, 1.3), (19.8, 1.6), (19.9, 1.5), (20.1, 1.6), (20.8, 1.4), (21.0, 1.4), (21.6, 1.5), (21.9, 1.4),
       (22.9, 1.3), (23.9, 1.3), (25.0, 1.4), (25.9, 1.3), (27.0, 1.4), (27.9, 1.3), (28.9, 1.4), (29.9, 1.3),
       (30.9, 1.4), (31.8, 1.3), (32.0, 1.3), (32.9, 1.2), (33.2, 1.3), (33.6, 1.3), (33.9, 1.3), (34.1, 1.2),
       (34.4, 1.4), (34.7, 1.4), (35.0, 1.3), (35.3, 1.3), (35.7, 1.3), (35.9, 1.4), (36.2, 1.3), (36.5, 1.3),
       (36.7, 1.2), (36.9, 1.2), (37.2, 1.1), (37.4, 1.3), (37.7, 1.3), (38.0, 1.2), (38.9, 1.2), (39.2, 1.2),
       (39.5, 1.2), (39.7, 1.2), (39.9, 1.3), (40.1, 1.2), (40.4, 1.2), (40.7, 1.3), (40.9, 1.3), (41.2, 1.3),
       (41.5, 1.3), (41.8, 1.3), (42.0, 1.3), (42.3, 1.3), (42.6, 1.3), (42.8, 1.4), (43.1, 1.4), (43.4, 1.4),
       (43.9, 1.5), (44.4, 1.7), (44.9, 1.6), (45.3, 1.6), (45.6, 1.6), (45.9, 1.7), (46.2, 1.7), (46.9, 1.9),
       (48.0, 2.2), (49.0, 2.5), (50.0, 3.2)]

pt = [(0.1, 28.1), (0.5, 24.4), (1.0, 19.2), (1.7, 18.2), (3.0, 16.6), (4.3, 16.8), (4.6, 18.9), (4.7, 14.8),
      (6.6, 13.9), (7.7, 14.3), (14.3, 15.0), (19.8, 18.3), (19.9, 17.6), (20.1, 18.0), (20.8, 17.0), (21.0, 16.6),
      (21.6, 17.3), (21.9, 16.2), (22.9, 15.3), (23.9, 15.5), (25.0, 16.4), (25.9, 15.3), (27.0, 16.2), (27.9, 15.8),
      (28.9, 16.7), (29.9, 15.7), (30.9, 16.0), (31.8, 15.6), (32.0, 15.4), (32.9, 14.9), (33.2, 16.0), (33.6, 15.6),
      (33.9, 15.3), (34.1, 14.9), (34.4, 16.3), (34.7, 16.1), (35.0, 15.6), (35.3, 15.7), (35.7, 15.6), (35.9, 16.1),
      (36.2, 15.7), (36.5, 15.3), (36.7, 14.9), (36.9, 14.1), (37.2, 13.6), (37.4, 15.2), (37.7, 15.2), (38.0, 14.0),
      (38.9, 14.8), (39.2, 14.1), (39.5, 14.6), (39.7, 14.8), (39.9, 15.0), (40.1, 14.9), (40.4, 15.0), (40.7, 15.1),
      (40.9, 15.3), (41.2, 15.6), (41.5, 15.8), (41.8, 15.3), (42.0, 15.2), (42.3, 15.4), (42.6, 15.6), (42.8, 16.9),
      (43.1, 16.7), (43.4, 16.7), (43.9, 17.9), (44.4, 19.3), (44.9, 18.7), (45.3, 18.7), (45.6, 18.4), (45.9, 19.0),
      (46.2, 19.9), (46.9, 21.5), (48.0, 24.0), (49.0, 27.1), (50.0, 33.3)]

ptt = [(0.1, 43.9), (0.5, 46.3), (1.0, 37.3), (1.7, 35.8), (3.0, 38.5), (4.3, 35.1), (4.6, 39.5), (4.7, 37.7),
       (6.6, 34.6), (7.7, 33.7), (14.3, 32.4), (19.8, 33.9), (19.9, 35.7), (20.1, 33.7), (20.8, 34.8), (21.0, 37.9),
       (21.6, 35.0), (21.9, 34.8), (22.9, 39.1), (23.9, 34.9), (25.0, 32.5), (25.9, 35.0), (27.0, 34.3), (27.9, 32.3),
       (28.9, 32.5), (29.9, 33.0), (30.9, 32.3), (31.6, 33.5), (32.0, 35.5), (32.9, 42.2), (33.2, 36.2), (33.6, 37.4),
       (33.9, 36.3), (34.2, 39.9), (34.4, 37.2), (34.7, 39.3), (35.0, 39.8), (35.3, 36.9), (35.7, 39.3), (35.9, 42.7),
       (36.2, 41.6), (36.5, 44.5), (36.7, 42.4), (36.9, 40.7), (37.2, 41.2), (37.4, 42.2), (37.7, 40.6), (38.0, 45.0),
       (38.9, 38.6), (39.2, 42.2), (39.5, 42.4), (39.7, 45.5), (39.9, 40.6), (40.2, 41.6), (40.4, 43.8), (40.7, 41.5),
       (40.9, 45.7), (41.2, 41.0), (41.5, 42.6), (41.8, 39.9), (42.0, 47.6), (42.3, 44.4), (42.6, 41.7), (42.8, 45.1),
       (43.1, 49.1), (43.4, 43.1), (43.9, 46.7), (44.4, 47.6), (44.9, 45.0), (45.4, 59.4), (45.7, 50.4), (45.9, 56.4),
       (46.3, 52.6), (46.9, 37.1), (48.0, 38.9), (49.0, 40.2), (50.0, 42.6)]

platelet = [(0.1, 96), (1.0, 122), (1.7, 152), (3.0, 147), (3.6, 177), (4.6, 184), (4.7, 166), (5.7, 241), (6.6, 214),
            (7.7, 201), (9.7, 186), (10.7, 187), (11.7, 119), (12.2, 135), (12.7, 120), (13.7, 127), (14.3, 156),
            (14.5, 142), (14.7, 156), (15.7, 180), (16.7, 145), (17.7, 157), (18.7, 147), (19.8, 190), (19.9, 162),
            (20.0, 168), (20.1, 141), (20.8, 139), (21.0, 141), (21.6, 115), (21.9, 109), (22.1, 91), (22.9, 65),
            (23.0, 59), (23.4, 55), (23.9, 51), (24.3, 55), (25.0, 61), (25.7, 77), (25.9, 66), (27.0, 79), (27.1, 81),
            (27.9, 80), (28.9, 81), (29.2, 87), (29.9, 86), (30.7, 77), (30.9, 81), (31.6, 85), (31.8, 135), (31.9, 81),
            (32.1, 85), (32.5, 75), (32.9, 80), (33.9, 115), (34.7, 74), (35.0, 90), (35.9, 62), (36.2, 62), (36.9, 75),
            (38.0, 68), (38.9, 66), (39.9, 66), (40.9, 65), (42.0, 65), (43.0, 77), (43.9, 75), (44.9, 74), (45.3, 66),
            (45.5, 69), (45.6, 73), (45.9, 63), (46.2, 68), (46.5, 74), (46.9, 69), (48.0, 70), (49.0, 70), (50.0, 75)]

potassium = [(0.1, 3.6), (1.0, 3.4), (1.7, 3.5), (3.0, 3.6), (3.6, 3.5), (4.6, 4.1), (4.7, 3.9), (4.7, 3.1), (5.7, 3.9),
             (6.6, 3.7), (7.7, 4.0), (9.7, 3.8), (10.7, 4.2), (11.7, 3.7), (12.7, 4.0), (13.7, 3.7), (14.7, 3.7),
             (15.7, 4.0), (16.7, 3.8), (17.7, 4.7), (17.7, 4.5), (18.3, 4.3), (18.7, 3.2), (19.5, 3.7), (19.8, 3.2),
             (19.9, 3.5), (19.9, 4.0), (20.1, 3.8), (20.1, 4.0), (20.7, 4.1), (20.8, 4.6), (21.0, 4.5), (21.6, 3.9),
             (21.7, 4.2), (21.8, 4.3), (22.0, 3.6), (22.2, 3.2), (22.2, 2.9), (22.9, 3.7), (23.0, 3.4), (23.1, 3.0),
             (23.2, 3.1), (23.4, 3.5), (23.7, 3.6), (23.9, 3.3), (24.1, 3.2), (24.3, 4.1), (24.6, 4.3), (25.0, 3.5),
             (25.3, 3.5), (25.5, 3.8), (25.9, 2.9), (26.2, 3.6), (26.6, 2.3), (26.7, 3.7), (26.9, 3.2), (27.0, 2.7),
             (27.1, 3.0), (27.6, 3.6), (27.9, 3.4), (28.9, 3.8), (29.0, 3.9), (29.2, 4.0), (29.6, 3.9), (29.9, 3.8),
             (30.2, 4.2), (30.7, 4.0), (30.9, 3.6), (31.6, 3.5), (32.0, 3.8), (32.4, 3.5), (32.6, 3.6), (32.7, 3.8),
             (32.9, 3.7), (33.5, 3.6), (33.9, 3.8), (34.7, 3.7), (35.0, 4.0), (35.7, 4.0), (35.9, 4.3), (36.5, 3.8),
             (36.9, 4.0), (37.9, 4.2), (38.9, 3.7), (39.3, 3.8), (39.7, 3.8), (39.9, 4.4), (40.8, 4.2), (41.0, 4.1),
             (41.2, 4.1), (41.5, 4.1), (42.0, 4.0), (42.2, 3.9), (42.6, 3.9), (43.0, 4.1), (43.1, 3.8), (43.7, 4.1),
             (43.9, 3.9), (44.3, 4.2), (44.7, 3.9), (45.0, 4.3), (46.0, 4.0), (46.9, 3.9), (48.0, 3.9), (49.0, 4.0),
             (50.0, 3.8)]

rbc = [(0.1, 3.85), (1.0, 4.0), (1.7, 4.1), (3.0, 3.7), (3.6, 3.27), (4.6, 3.19), (4.7, 3.13), (4.7, 2.54),
       (5.7, 3.35), (6.6, 3.07), (7.7, 3.08), (9.7, 2.82), (10.7, 2.86), (11.7, 1.85), (12.2, 2.03), (12.7, 2.32),
       (13.7, 2.63), (14.3, 2.52), (14.5, 2.37), (14.7, 2.4), (15.7, 2.49), (16.7, 2.32), (17.7, 2.4), (18.7, 2.23),
       (19.8, 3.48), (19.9, 2.75), (20.0, 2.69), (20.1, 2.84), (20.8, 3.02), (21.0, 2.86), (21.6, 2.47), (21.8, 2.47),
       (22.0, 2.5), (22.1, 2.54), (22.9, 2.5), (23.0, 2.7), (23.4, 2.86), (23.9, 2.7), (24.3, 2.74), (25.0, 2.58),
       (25.7, 3.1), (25.9, 2.84), (27.0, 2.69), (27.1, 2.88), (27.9, 3.02), (28.9, 2.82), (29.2, 2.97), (29.9, 2.8),
       (30.7, 2.6), (30.9, 2.6), (31.6, 2.6), (31.8, 2.86), (31.8, 2.35), (32.0, 2.8), (32.5, 2.6), (32.9, 2.7),
       (33.9, 2.7), (34.7, 2.48), (35.0, 2.43), (35.9, 2.32), (36.2, 2.59), (36.9, 2.86), (38.0, 2.59), (38.9, 2.74),
       (39.9, 2.55), (40.9, 2.51), (42.0, 2.4), (43.0, 2.53), (43.9, 2.42), (44.9, 2.37), (45.3, 2.34), (45.6, 2.74),
       (45.9, 2.41), (46.3, 2.87), (46.6, 2.82), (46.9, 2.7), (48.0, 2.7), (49.0, 2.6), (50.0, 2.6)]

rdw = [(0.1, 20.7), (1.0, 20.7), (1.7, 20.9), (3.0, 20.9), (3.6, 20.7), (4.6, 20.7), (4.7, 20.0), (5.7, 20.1),
       (6.6, 20.4), (7.7, 21.2), (9.7, 20.8), (10.7, 21.1), (11.7, 21.6), (12.2, 22.5), (12.7, 20.9), (13.7, 21.1),
       (14.3, 21.7), (14.5, 21.4), (14.7, 21.6), (15.7, 23.0), (16.7, 23.3), (17.7, 24.8), (18.7, 24.4), (19.8, 18.4),
       (19.9, 18.2), (20.0, 17.2), (20.1, 15.4), (20.8, 16.5), (21.0, 17.3), (21.6, 18.1), (21.8, 18.1), (22.0, 18.3),
       (22.1, 17.3), (22.9, 18.3), (23.4, 18.9), (23.9, 19.5), (24.3, 19.3), (25.0, 21.0), (25.7, 22.6), (25.9, 22.0),
       (27.0, 22.3), (27.1, 22.0), (27.9, 23.1), (28.9, 23.0), (29.2, 23.0), (29.9, 22.9), (30.7, 23.4), (30.9, 23.5),
       (31.6, 23.4), (31.8, 23.6), (31.9, 23.3), (32.5, 23.4), (32.9, 24.6), (33.9, 24.8), (34.7, 24.7), (35.0, 25.6),
       (35.9, 25.4), (36.2, 27.2), (36.9, 26.5), (38.0, 26.3), (38.9, 25.8), (39.9, 24.7), (40.9, 24.3), (42.0, 24.0),
       (43.0, 23.6), (43.9, 23.3), (44.9, 23.0), (45.3, 23.5), (45.5, 23.6), (45.6, 25.1), (45.9, 25.6), (46.3, 24.9),
       (46.6, 24.8), (46.9, 25.1), (48.0, 23.6), (49.0, 23.5), (50.0, 24.0)]

sodium = [(0.1, 136), (1.0, 137), (1.7, 135), (3.0, 135), (3.6, 136), (4.6, 137), (4.7, 135), (5.7, 135), (6.6, 136),
          (7.7, 138), (9.7, 140), (10.7, 137), (11.7, 137), (12.7, 139), (13.7, 141), (14.7, 139), (15.7, 142),
          (16.7, 140), (17.7, 144), (18.3, 142), (18.7, 143), (19.5, 162), (19.8, 145), (19.9, 146), (19.95, 145),
          (20.1, 146), (20.15, 146), (20.8, 146), (21.0, 143), (21.05, 146), (21.6, 147), (21.65, 149), (21.8, 145),
          (22.0, 148), (22.2, 149), (22.9, 148), (23.0, 152), (23.1, 148), (23.4, 150), (23.7, 149), (24.0, 150),
          (24.3, 152), (24.6, 153), (25.0, 154), (25.3, 154), (25.5, 154), (25.9, 154), (26.2, 156), (26.5, 153),
          (26.7, 154), (26.9, 153), (27.1, 153), (27.6, 155), (27.9, 155), (28.8, 152), (29.0, 155), (29.2, 156),
          (29.6, 155), (29.9, 151), (30.2, 150), (30.7, 154), (30.9, 150), (31.6, 152), (32.0, 154), (32.4, 155),
          (32.6, 154), (32.7, 155), (32.9, 152), (33.5, 153), (33.9, 152), (34.7, 151), (35.0, 148), (35.7, 151),
          (35.9, 149), (36.5, 148), (36.9, 147), (38.0, 146), (38.9, 140), (39.3, 140), (39.7, 141), (39.9, 142),
          (40.8, 140), (41.0, 140), (41.2, 141), (41.5, 141), (42.0, 141), (42.2, 140), (43.0, 139), (43.1, 140),
          (43.7, 140), (43.9, 140), (44.3, 142), (44.7, 142), (45.0, 140), (46.0, 142), (46.9, 142), (48.0, 141),
          (49.0, 142), (50.0, 143)]

wbc = [(0.1, 7.4), (1.0, 9.7), (1.7, 10.5), (3.0, 7.7), (3.6, 7.7), (4.6, 6.8), (4.7, 6.4), (4.7, 6.0), (5.7, 7.7),
       (6.6, 6.5), (7.7, 7.1), (9.7, 6.4), (10.7, 7.3), (11.7, 4.5), (12.2, 5.4), (12.7, 4.6), (13.7, 5.1), (14.3, 5.8),
       (14.5, 5.9), (14.7, 5.9), (15.7, 7.0), (16.7, 5.6), (17.7, 6.0), (18.7, 5.9), (19.8, 18.0), (19.9, 14.8),
       (20.0, 11.3), (20.1, 8.1), (20.8, 12.0), (21.0, 12.7), (21.6, 10.1), (21.9, 11.0), (22.1, 9.3), (22.9, 7.7),
       (23.0, 6.8), (23.4, 7.7), (23.9, 6.8), (24.3, 6.8), (25.0, 6.8), (25.7, 10.4), (25.9, 7.5), (27.0, 8.0),
       (27.1, 6.9), (27.9, 7.6), (28.9, 6.8), (29.2, 8.4), (29.9, 7.7), (30.7, 7.0), (30.9, 6.7), (31.6, 7.1),
       (31.8, 12.5), (31.9, 6.4), (32.1, 7.0), (32.5, 5.8), (32.9, 7.0), (33.9, 9.8), (34.7, 5.2), (35.0, 6.9),
       (35.9, 3.8), (36.2, 4.5), (36.9, 5.1), (38.0, 4.0), (38.9, 4.4), (39.9, 4.4), (40.9, 4.0), (42.0, 3.3),
       (43.0, 3.4), (43.9, 3.3), (44.9, 3.5), (45.3, 3.2), (45.6, 3.6), (45.9, 3.0), (46.3, 4.1), (46.6, 3.8),
       (46.9, 3.6), (48.0, 3.3), (49.0, 3.5), (50.0, 3.9)]


### Panel setup: (label, data, colour, y limits, y ticks)

left_panels = [
    ('RR', rr, '#e8263f', (-3.5, 47.5), [0, 10, 20, 30, 40]),
    ('HR', hr, '#e9362d', (61, 136), [70, 80, 90, 100, 110, 120, 130]),
    ('SBP', sbp, '#f05a28', (59, 158), [60, 80, 100, 120, 140]),
    ('Temperature', temperature, '#f5872c', (96.75, 102.9), [97, 98, 99, 100, 101, 102]),
    ('BUN', bun, '#f6ad2e', (21, 119), [40, 60, 80, 100]),
    ('CO₂', co2, '#d4dc3c', (19, 38), [20, 25, 30, 35]),
    ('Calcium', calcium, '#b7d63a', (7.73, 9.58), [8.0, 8.5, 9.0, 9.5]),
    ('Chloride', chloride, '#8ec73f', (96, 126), [100, 105, 110, 115, 120, 125]),
    ('Creatinine', creatinine, '#78c242', (0.55, 2.26), [1.0, 1.5, 2.0]),
    ('Glucose', glucose, '#6dbf44', (69, 335), [100, 150, 200, 250, 300]),
    ('Hematocrit', hematocrit, '#6bc04a', (16, 38), [20, 25, 30, 35]),
    ('Hemoglobin', hemoglobin, '#6ec35b', (5.4, 12.25), [6, 7, 8, 9, 10, 11, 12]),
]

right_panels = [
    ('MCH', mch, '#5ec49b', (28.6, 34.3), [29, 30, 31, 32, 33, 34]),
    ('MCHC', mchc, '#4fc7b8', (31.87, 34.09), [32.0, 32.5, 33.0, 33.5, 34.0]),
    ('MCV', mcv, '#3dbfe0', (87.5, 101.4), [88, 90, 92, 94, 96, 98, 100]),
    ('INR', inr, '#2e9dda', (0.98, 3.32), [1.0, 1.5, 2.0, 2.5, 3.0]),
    ('PT', pt, '#2a6cbb', (12.2, 34.3), [15, 20, 25, 30]),
    ('PTT', ptt, '#2b5fb0', (30.7, 60.8), [35, 40, 45, 50, 55, 60]),
    ('Platelet', platelet, '#2d58a8', (42, 252), [50, 100, 150, 200, 250]),
    ('Potassium', potassium, '#3a4ea2', (2.15, 4.8), [2.5, 3.0, 3.5, 4.0, 4.5]),
    ('RBC', rbc, '#5a4aa6', (1.76, 4.21), [2.0, 2.5, 3.0, 3.5, 4.0]),
    ('RDW', rdw, '#8a50a8', (15.0, 27.9), [16, 18, 20, 22, 24, 26]),
    ('Sodium', sodium, '#b050a5', (133.7, 163.4), [135, 140, 145, 150, 155, 160]),
    ('WBC', wbc, '#d04f9f', (2.4, 18.8), [4, 6, 8, 10, 12, 14, 16, 18]),
]


### Plot

plt.rcParams['font.family'] = ['Liberation Sans', 'DejaVu Sans']

W, H = 1226, 1264
fig = plt.figure(figsize=(W / 100, H / 100), dpi=100)
renderer = fig.canvas.get_renderer()

col_left = [50.4, 663.4]
col_width = 547.0
row_top = 8
row_pitch = 101.9
ax_height = 85
label_size = 13.8
label_max_px = 93   # long labels get shrunk to about the panel height

for c, panels in enumerate([left_panels, right_panels]):
    for r, (label, data, color, ylim, yticks) in enumerate(panels):
        top = row_top + row_pitch * r
        ax = fig.add_axes([col_left[c] / W, 1 - (top + ax_height) / H, col_width / W, ax_height / H])
        ax.set_facecolor('#e5e6e8')

        days = [p[0] for p in data]
        vals = [p[1] for p in data]
        ax.scatter(days, vals, s=20, color=color, edgecolors='none', zorder=3)

        ax.set_xlim(-0.15, 50.3)
        ax.set_ylim(*ylim)
        ax.set_xticks(range(0, 51, 10))
        ax.set_yticks(yticks)
        ax.grid(True, color='white', linewidth=1.1)
        ax.set_axisbelow(True)
        for s in ax.spines.values():
            s.set_visible(False)

        ax.tick_params(axis='x', length=0, pad=0.5, labelsize=14.5, labelcolor='black')
        ax.tick_params(axis='y', length=0, pad=1, labelsize=8.5, labelcolor='#333333')

        ylab = ax.set_ylabel(label, fontsize=label_size)
        ax.yaxis.set_label_coords(-0.05, 0.5)
        length = ylab.get_window_extent(renderer).height
        if length > label_max_px:
            ylab.set_fontsize(label_size * label_max_px / length)

        if r == len(panels) - 1:
            ax.set_xlabel('Elapsed Time (day)', fontsize=16.5, labelpad=3)

fig.savefig('out.png', dpi=100)
